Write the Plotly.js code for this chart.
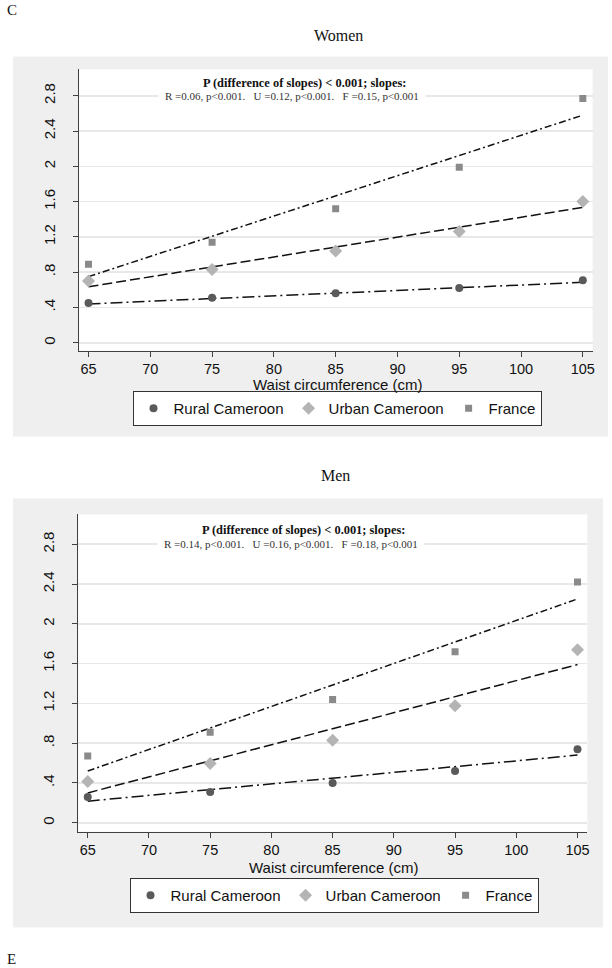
<!DOCTYPE html>
<html>
<head>
<meta charset="utf-8">
<script src="https://cdn.plot.ly/plotly-3.0.1.min.js"></script>
<style>
html,body{margin:0;padding:0;background:#fff;}
#chart{width:612px;height:968px;}
</style>
</head>
<body>
<div id="chart"></div>
<script>
// ---- data ----
const waist = [65, 75, 85, 95, 105];
const yTickVals = [0, 0.4, 0.8, 1.2, 1.6, 2, 2.4, 2.8];
const yTickText = ['0', '.4', '.8', '1.2', '1.6', '2', '2.4', '2.8'];
const xTickVals = [65, 70, 75, 80, 85, 90, 95, 100, 105];
const groupNames = ['Rural Cameroon', 'Urban Cameroon', 'France'];
const xTitle = 'Waist circumference (cm)';

const womenRural  = [0.45, 0.51, 0.56, 0.62, 0.71];
const womenUrban  = [0.70, 0.83, 1.04, 1.26, 1.60];
const womenFrance = [0.89, 1.14, 1.52, 1.99, 2.77];

const menRural  = [0.26, 0.31, 0.40, 0.52, 0.74];
const menUrban  = [0.415, 0.595, 0.83, 1.175, 1.74];
const menFrance = [0.67, 0.91, 1.24, 1.72, 2.42];

// fitted lines (end points of each regression line)
const fitX = [65, 105];
const womenFitRural  = [0.44, 0.685];
const womenFitUrban  = [0.635, 1.535];
const womenFitFrance = [0.75, 2.58];
const menFitRural  = [0.217, 0.68];
const menFitUrban  = [0.30, 1.59];
const menFitFrance = [0.52, 2.25];

const womenSlopes = 'R =0.06, p<0.001.\u00a0\u00a0\u00a0U =0.12, p<0.001.\u00a0\u00a0\u00a0F =0.15, p<0.001';
const menSlopes   = 'R =0.14, p<0.001.\u00a0\u00a0\u00a0U =0.16, p<0.001.\u00a0\u00a0\u00a0F =0.18, p<0.001';
const slopeHeader = '<b>P (difference of slopes) < 0.001; slopes:</b>';

// ---- styles ----
const W = 612, H = 968;
const px = x => x / W;
const py = y => 1 - y / H;
const SANS = 'Liberation Sans, Arial, sans-serif';
const SERIF = 'Liberation Serif, Times New Roman, serif';
const markerStyles = [
  {symbol: 'circle', color: '#5a5a5a', size: 8},
  {symbol: 'diamond', color: '#b4b4b4', size: 10},
  {symbol: 'square', color: '#8a8a8a', size: 7}
];
const fitDashes = ['12px,4px,2px,4px', '10px,4px', '7px,3px,2px,3px'];

function panel(series, fits, xa, ya, legendId) {
  const tr = [];
  fits.forEach((f, i) => {
    tr.push({x: fitX, y: f, xaxis: xa, yaxis: ya, mode: 'lines', showlegend: false,
      hoverinfo: 'skip', line: {color: '#111', width: 1.5, dash: fitDashes[i]}});
  });
  series.forEach((s, i) => {
    tr.push({x: waist, y: s, xaxis: xa, yaxis: ya, mode: 'markers', name: groupNames[i],
      legend: legendId, marker: markerStyles[i]});
  });
  return tr;
}

const traces = [
  ...panel([womenRural, womenUrban, womenFrance], [womenFitRural, womenFitUrban, womenFitFrance], 'x', 'y', 'legend'),
  ...panel([menRural, menUrban, menFrance], [menFitRural, menFitUrban, menFitFrance], 'x2', 'y2', 'legend2')
];

function xAxis(domain, anchor) {
  return {domain: domain, anchor: anchor, range: [64.23, 105.8], tickvals: xTickVals,
    showgrid: false, zeroline: false, showline: true, linecolor: '#404040', linewidth: 1,
    ticks: 'outside', ticklen: 5, tickcolor: '#404040', tickfont: {family: SANS, size: 14.5, color: '#111'}};
}
function yAxis(domain, anchor) {
  return {domain: domain, anchor: anchor, range: [-0.09, 3.10], tickvals: yTickVals, ticktext: yTickText,
    tickangle: -90, showgrid: true, gridcolor: '#e8e8e8', gridwidth: 1.5, zeroline: false,
    showline: true, linecolor: '#404040', linewidth: 1, ticks: 'outside', ticklen: 5, tickcolor: '#404040',
    ticklabelstandoff: 12, tickfont: {family: SANS, size: 15, color: '#111'}};
}
function legendBox(xc, ytop) {
  return {orientation: 'h', x: xc, xanchor: 'center', y: ytop, yanchor: 'top',
    bgcolor: '#fff', bordercolor: '#333', borderwidth: 1, font: {family: SANS, size: 15, color: '#111'},
    itemclick: false, traceorder: 'normal'};
}
function note(text, x, y, font, extra) {
  return Object.assign({text: text, xref: 'paper', yref: 'paper', x: px(x), y: py(y),
    xanchor: 'center', yanchor: 'middle', showarrow: false, font: font}, extra || {});
}

const layout = {
  width: W, height: H, autosize: false,
  margin: {l: 0, r: 0, t: 0, b: 0},
  paper_bgcolor: '#fff', plot_bgcolor: '#fff',
  showlegend: true,
  xaxis: xAxis([px(79), px(592.7)], 'y'),
  yaxis: yAxis([py(350.7), py(69.3)], 'x'),
  xaxis2: xAxis([px(78.3), px(587.3)], 'y2'),
  yaxis2: yAxis([py(831.7), py(514.4)], 'x2'),
  legend: legendBox(px(337), py(391)),
  legend2: legendBox(px(334), py(878)),
  shapes: [
    {type: 'rect', xref: 'paper', yref: 'paper', x0: px(13), x1: px(608), y0: py(436.5), y1: py(56.5),
      fillcolor: '#efefef', line: {width: 0}, layer: 'below'},
    {type: 'rect', xref: 'paper', yref: 'paper', x0: px(13), x1: px(603), y0: py(927.5), y1: py(498.5),
      fillcolor: '#efefef', line: {width: 0}, layer: 'below'},
    {type: 'rect', xref: 'x domain', yref: 'y domain', x0: 0, x1: 1, y0: 0, y1: 1,
      fillcolor: '#fff', line: {width: 0}, layer: 'below'},
    {type: 'rect', xref: 'x2 domain', yref: 'y2 domain', x0: 0, x1: 1, y0: 0, y1: 1,
      fillcolor: '#fff', line: {width: 0}, layer: 'below'}
  ],
  annotations: [
    note('C', 5, 10, {family: SERIF, size: 15, color: '#111'}, {xanchor: 'left'}),
    note('E', 5, 959, {family: SERIF, size: 15, color: '#111'}, {xanchor: 'left'}),
    note('Women', 338, 35, {family: SERIF, size: 16, color: '#111'}),
    note('Men', 335, 475, {family: SERIF, size: 16, color: '#111'}),
    note(xTitle, 337, 384, {family: SANS, size: 15, color: '#111'}),
    note(xTitle, 333, 867, {family: SANS, size: 15, color: '#111'}),
    note(womenSlopes, 292, 95.5, {family: SERIF, size: 11, color: '#333'}, {bgcolor: '#fff', borderpad: 6}),
    note(slopeHeader, 304, 83, {family: SERIF, size: 12.4, color: '#111'}),
    note(menSlopes, 291, 543.5, {family: SERIF, size: 11, color: '#333'}, {bgcolor: '#fff', borderpad: 6}),
    note(slopeHeader, 303, 529.5, {family: SERIF, size: 12.4, color: '#111'})
  ]
};

Plotly.newPlot('chart', traces, layout, {staticPlot: true, displayModeBar: false});
</script>
</body>
</html>
